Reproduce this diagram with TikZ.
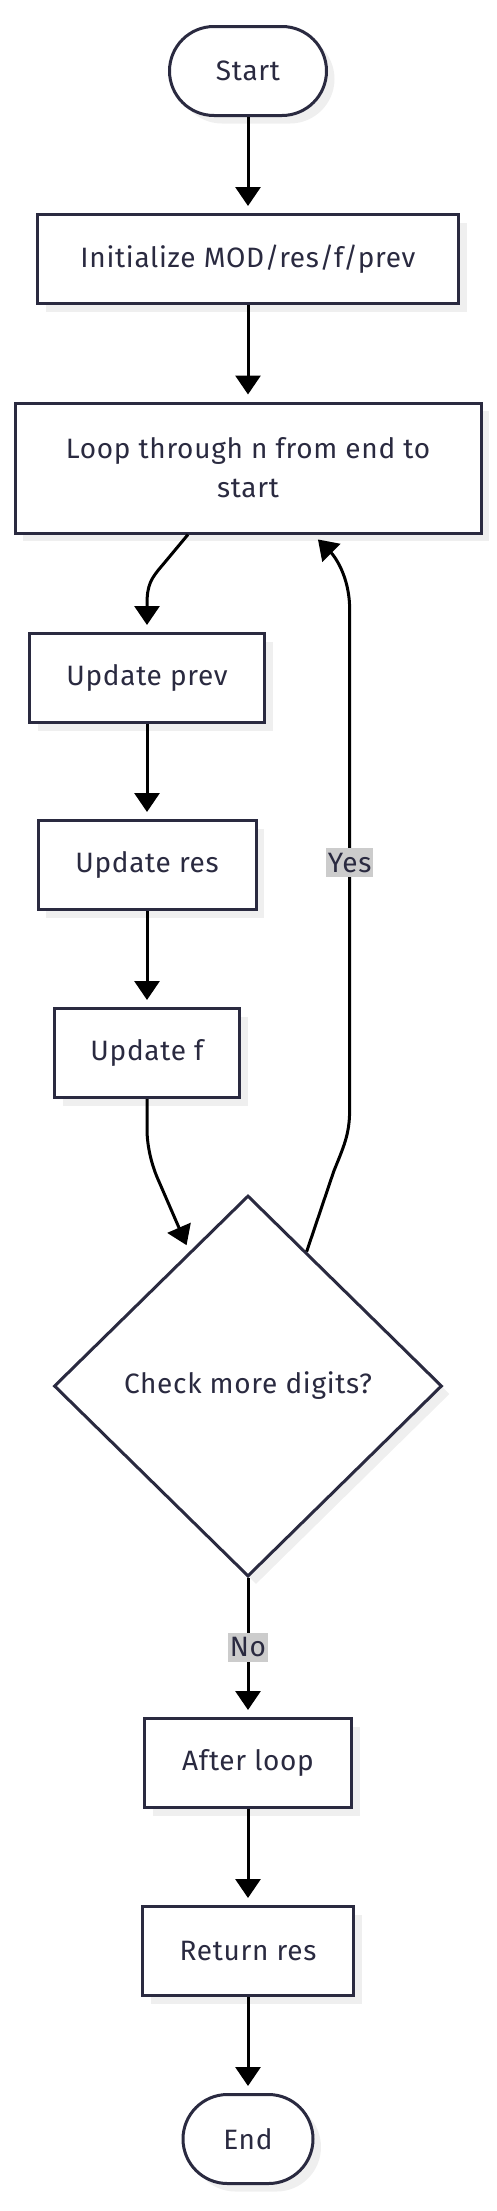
\documentclass[tikz,border=0pt]{standalone}
\usepackage{fontspec}
\setmainfont{Fira Sans}[LetterSpace=2.5]
\usetikzlibrary{shapes.geometric,shapes.misc,arrows.meta,shadows,calc}
\definecolor{ink}{HTML}{2A2A40}
\definecolor{shade}{HTML}{EFEFEF}
\definecolor{lblgray}{HTML}{CCCCCC}
\tikzset{
  base/.style={draw=ink, line width=3pt, fill=white, inner sep=0pt, text=ink,
    font=\fontsize{28}{39}\selectfont,
    drop shadow={shadow xshift=8pt, shadow yshift=-8pt, fill=shade, opacity=1}},
  procbox/.style={base, rectangle, minimum height=89pt},
  termbox/.style={base, rounded rectangle, minimum height=89pt},
  decbox/.style={base, diamond, minimum width=388pt, minimum height=381pt},
  arr/.style={draw=black, line width=3pt, -{Triangle[length=19pt,width=25pt]}, shorten >=7pt},
  lbl/.style={fill=lblgray, text=ink, font=\fontsize{28}{32}\selectfont, inner xsep=2pt, inner ysep=5pt}
}
\begin{document}
\begin{tikzpicture}[x=1pt,y=-1pt]
\useasboundingbox (0,0) rectangle (496,2211);
\node[termbox, minimum width=157pt] (start) at (248,71) {Start};
\node[procbox, minimum width=421pt] (init) at (248,259) {Initialize MOD/res/f/prev};
\node[procbox, minimum width=466pt, minimum height=130pt, align=center] (loop) at (248,468) {Loop through n from end to\\start};
\node[procbox, minimum width=235pt] (prev) at (147,678) {Update prev};
\node[procbox, minimum width=218pt] (res) at (147,865) {Update res};
\node[procbox, minimum width=185pt] (upf) at (147,1053) {Update f};
\node[decbox] (dec) at (248,1386) {Check more digits?};
\node[procbox, minimum width=207pt] (after) at (248,1763) {After loop};
\node[procbox, minimum width=211pt] (ret) at (248,1951) {Return res};
\node[termbox, minimum width=130pt] (end) at (248,2139) {End};

\draw[arr] (start) -- (init);
\draw[arr] (init) -- (loop);
\draw[arr] ([xshift=-60pt]loop.south) -- ++(-25,30) .. controls +(-12,14) and +(0,-20) .. ++(-16,40) -- (prev.north);
\draw[arr] (prev) -- (res);
\draw[arr] (res) -- (upf);
\draw[arr] (upf.south) -- ++(0,30) .. controls +(0,18) and +(-5,-12) .. ++(10,48) -- ($(dec.north)!0.3!(dec.west)$);
\draw[arr] ($(dec.north)!0.3!(dec.east)$) -- ++(27,-80) .. controls +(10,-25) and +(0,25) .. ++(16,-62)
  -- node[lbl, pos=0.494] {Yes} ++(0,-500) .. controls +(0,-35) and +(20,20) .. ([xshift=65pt]loop.south);
\draw[arr] (dec.south) -- node[lbl, pos=0.5] {No} (after.north);
\draw[arr] (after) -- (ret);
\draw[arr] (ret) -- (end);
\end{tikzpicture}
\end{document}
